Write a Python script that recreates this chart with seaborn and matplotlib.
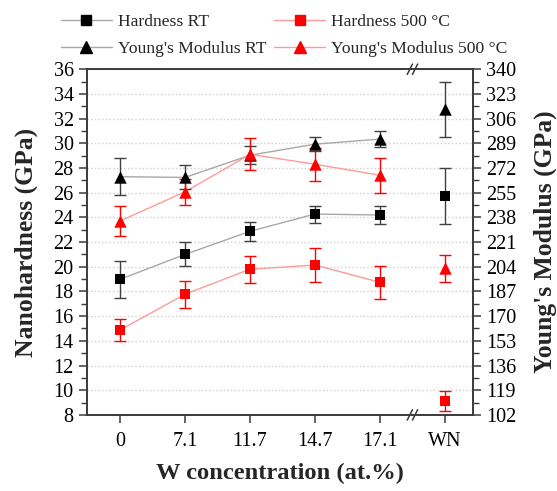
import numpy as np
import pandas as pd
import matplotlib
matplotlib.use("Agg")
import matplotlib.pyplot as plt
import matplotlib.transforms as mtransforms
from matplotlib.lines import Line2D
from matplotlib.ticker import MultipleLocator
import seaborn as sns

categories = ["0", "7.1", "11.7", "14.7", "17.1", "WN"]
hard_rt = [18.98, 21.0, 22.87, 24.27, 24.19, 25.75]
hard_rt_err = [1.5, 0.97, 0.78, 0.69, 0.70, 2.27]
hard_500 = [14.88, 17.77, 19.8, 20.14, 18.74, 9.14]
hard_500_err = [0.92, 1.10, 1.10, 1.35, 1.36, 0.82]
ym_rt = [266.0, 265.5, 280.8, 288.4, 291.9, 312.3]
ym_rt_err = [12.7, 8.3, 6.2, 5.0, 5.4, 19.0]
ym_500 = [235.5, 255.6, 281.4, 274.6, 267.0, 202.9]
ym_500_err = [10.5, 9.0, 11.0, 11.5, 12.2, 9.4]

sns.set_style("ticks")
plt.rcParams["font.family"] = ["Liberation Serif", "DejaVu Serif"]

spine_col = "#3a3a3a"
pos = np.arange(len(categories))
df = pd.DataFrame({"pos": pos, "cat": categories,
                   "hard_rt": hard_rt, "hard_rt_err": hard_rt_err,
                   "hard_500": hard_500, "hard_500_err": hard_500_err,
                   "ym_rt": ym_rt, "ym_rt_err": ym_rt_err,
                   "ym_500": ym_500, "ym_500_err": ym_500_err})
conn = df[df["cat"] != "WN"]

fig = plt.figure(figsize=(5.57, 4.91), dpi=100)
ax = fig.add_axes([0.156, 0.155, 0.693, 0.704])
ax2 = ax.twinx()

series = [
    (ax, "hard_rt", "s", "black", "#a8a8a8", "#404040"),
    (ax, "hard_500", "s", "red", "#ff9a9a", "red"),
    (ax2, "ym_rt", "^", "black", "#a8a8a8", "#404040"),
    (ax2, "ym_500", "^", "red", "#ff9a9a", "red"),
]
for a, col, mk, mcol, lcol, ecol in series:
    sns.lineplot(data=conn, x="pos", y=col, ax=a, color=lcol, lw=1.0,
                 legend=False, zorder=2, errorbar=None)
    a.errorbar(df["pos"], df[col], yerr=df[col + "_err"], fmt="none",
               ecolor=ecol, elinewidth=1.0, capsize=4.5, capthick=1.0, zorder=3)
    sns.scatterplot(data=df, x="pos", y=col, ax=a, marker=mk, color=mcol,
                    s=62 if mk == "s" else 80, edgecolor=mcol, linewidth=0,
                    legend=False, zorder=4)

ax.set_xlim(-0.51, 5.43)
ax.set_ylim(8, 36)
ax2.set_ylim(102, 340)
ax.set_yticks(np.arange(8, 37, 2))
ax2.set_yticks(np.arange(102, 341, 17))
ax.yaxis.set_minor_locator(MultipleLocator(1))
ax2.yaxis.set_minor_locator(MultipleLocator(8.5))
ax.set_xticks(pos)
ax.set_xticklabels(categories)
ax.yaxis.grid(True, which="major", linestyle=":", color="#cfcfcf", lw=1.0)
ax.set_axisbelow(True)

for a in (ax, ax2):
    for s in a.spines.values():
        s.set_color(spine_col)
        s.set_linewidth(1.2)
        s.set_visible(True)
    a.tick_params(axis="both", which="major", direction="out", length=6,
                  width=1.1, color=spine_col, labelsize=14.5, labelcolor="black")
    a.tick_params(axis="y", which="minor", direction="out", length=4,
                  width=1.0, color=spine_col)
ax.tick_params(axis="x", pad=6)
ax.tick_params(axis="y", which="both", right=False)
ax2.tick_params(axis="y", which="both", left=False)

xl = ax.set_xlabel("W concentration (at.%)", fontsize=17, fontweight="bold", labelpad=9)
yl = ax.set_ylabel("Nanohardness (GPa)", fontsize=17, fontweight="bold")
yr = ax2.set_ylabel("Young's Modulus (GPa)", fontsize=17, fontweight="bold")

# axis break marks
trans = mtransforms.blended_transform_factory(ax.transData, ax.transAxes)
for yb in (0.0, 1.0):
    for dx in (-0.04, 0.04):
        ax.plot([4.5 + dx - 0.04, 4.5 + dx + 0.04], [yb - 0.015, yb + 0.015],
                transform=trans, color=spine_col, lw=1.1, clip_on=False, zorder=6)

handles = [
    Line2D([], [], color="#a8a8a8", lw=1.0, marker="s", mfc="black", mec="black", ms=7),
    Line2D([], [], color="#ff9a9a", lw=1.0, marker="s", mfc="red", mec="red", ms=7),
    Line2D([], [], color="#a8a8a8", lw=1.0, marker="^", mfc="black", mec="black", ms=8),
    Line2D([], [], color="#ff9a9a", lw=1.0, marker="^", mfc="red", mec="red", ms=8),
]
labels = ["Hardness RT", "Hardness 500 \u00b0C", "Young's Modulus RT", "Young's Modulus 500 \u00b0C"]
order = [0, 2, 1, 3]
leg = fig.legend([handles[i] for i in order], [labels[i] for i in order], ncol=2,
                 frameon=False, fontsize=12.6, loc="upper left",
                 bbox_to_anchor=(61 / 557, 1 - 14 / 491), borderpad=0, borderaxespad=0,
                 handlelength=2.9, columnspacing=0.45, handletextpad=0.35,
                 labelspacing=0.6)

# fit axis label sizes to the reference text lengths (pixels)
renderer = fig.canvas.get_renderer()
for t, target, horiz in ((xl, 248, True), (yl, 229, False), (yr, 263, False)):
    bb = t.get_window_extent(renderer)
    cur = bb.width if horiz else bb.height
    t.set_fontsize(t.get_fontsize() * target / cur)

# label positions (axes coords)
axw = 0.693 * 557
ax.yaxis.set_label_coords((26 - 87) / axw, 0.5)
ax2.yaxis.set_label_coords((545 - 87) / axw, 0.5)
yl.set_va("center")
yr.set_va("center")

fig.savefig("out.png", dpi=100)
